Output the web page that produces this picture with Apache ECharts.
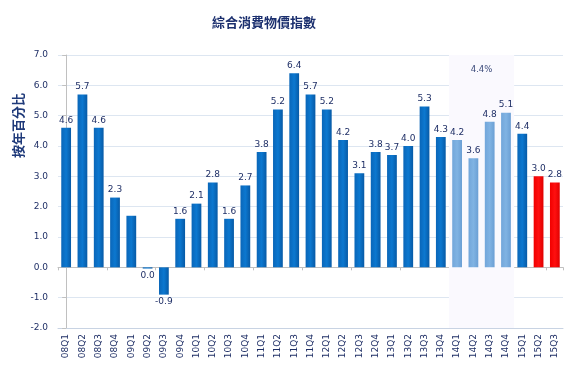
<!DOCTYPE html>
<html><head><meta charset="utf-8">
<script src="https://cdn.jsdelivr.net/npm/echarts@6/dist/echarts.min.js"></script>
<style>html,body{margin:0;padding:0;background:#fff}#c{width:584px;height:378px}</style>
</head><body><div id="c"></div>
<script>
const categories = ['08Q1','08Q2','08Q3','08Q4','09Q1','09Q2','09Q3','09Q4','10Q1','10Q2','10Q3','10Q4','11Q1','11Q2','11Q3','11Q4','12Q1','12Q2','12Q3','12Q4','13Q1','13Q2','13Q3','13Q4','14Q1','14Q2','14Q3','14Q4','15Q1','15Q2','15Q3'];
const values = [4.6,5.7,4.6,2.3,1.7,-0.04,-0.9,1.6,2.1,2.8,1.6,2.7,3.8,5.2,6.4,5.7,5.2,4.2,3.1,3.8,3.7,4.0,5.3,4.3,4.2,3.6,4.8,5.1,4.4,3.0,2.8];
const unlabeled = ['09Q1'];
const lightCats = ['14Q1','14Q2','14Q3','14Q4'];
const redCats = ['15Q2','15Q3'];
const bandFrom = '14Q1', bandTo = '14Q4';
const bandLabel = '4.4%';
const yTicks = [-2,-1,0,1,2,3,4,5,6,7];

const navy = '#1f2f66';
const font = 'DejaVu Sans';
function grad(c0,c1,c2){return new echarts.graphic.LinearGradient(0,0,1,0,[{offset:0,color:c0},{offset:0.5,color:c1},{offset:1,color:c2}]);}
const dark = grad('#0a66b8','#0c78d0','#075aa6');
const light = grad('#72a6da','#80b3e3','#6b9fd4');
const red = grad('#f00000','#ff1010','#e00000');

const data = values.map((v,i)=>{
  const c = categories[i];
  const col = lightCats.includes(c) ? light : (redCats.includes(c) ? red : dark);
  return {
    value: v,
    itemStyle:{color:col},
    label:{show: !unlabeled.includes(c), position: v<0 ? 'bottom':'top'}
  };
});
const i0 = categories.indexOf(bandFrom), i1 = categories.indexOf(bandTo);

const chart = echarts.init(document.getElementById('c'), null, {renderer:'canvas'});
chart.setOption({
  animation:false,
  title:{text:'綜合消費物價指數', left:207, top:11,
    textStyle:{fontFamily:'Noto Sans CJK TC', fontWeight:'bold', fontSize:13, color:'#1b2f6e'}},
  grid:{left:58, right:21, top:55, bottom:50},
  graphic:[{type:'text', left:12, top:93, rotation:Math.PI/2,
    style:{text:'按年百分比', font:'bold 13px "Noto Sans CJK TC"', fill:'#1f3a7a'}}],
  xAxis:[
    {type:'category', data:categories, position:'bottom',
     axisLine:{onZero:false, lineStyle:{color:'#c8d3e3'}},
     axisTick:{show:false},
     axisLabel:{rotate:90, interval:0, fontFamily:font, fontSize:9, color:navy, margin:6},
     splitLine:{show:false}},
    {type:'category', data:categories, position:'top',
     axisLine:{onZero:true, lineStyle:{color:'#c0c0c0'}},
     axisTick:{show:true, inside:true, length:3, lineStyle:{color:'#c0c0c0'}},
     axisLabel:{show:false}},
    {type:'value', min:-0.5, max:categories.length-0.5, show:false}
  ],
  yAxis:{type:'value', min:yTicks[0], max:yTicks[yTicks.length-1], interval:1,
    axisLine:{show:true, lineStyle:{color:'#c0c0c0'}},
    axisTick:{show:true, length:4, lineStyle:{color:'#c0c0c0'}},
    axisLabel:{fontFamily:font, fontSize:9, color:navy, margin:10, formatter:v=>v.toFixed(1)},
    splitLine:{lineStyle:{color:'#dde6f1'}}},
  series:[
    {type:'line', xAxisIndex:2, data:[], silent:true, z:0,
     markArea:{silent:true, itemStyle:{color:'#faf9fe', opacity:1, borderWidth:0},
       emphasis:{disabled:true},
       label:{show:true, position:'insideTop', distance:10, fontFamily:font, fontSize:8.5, color:'#3b4a7a'},
       data:[[{name:bandLabel, xAxis:i0-0.5, yAxis:yTicks[yTicks.length-1]},{xAxis:i1+0.5, yAxis:yTicks[0]}]]}},
    {type:'bar', xAxisIndex:0, data:data, barCategoryGap:'40%', z:3,
     label:{show:true, fontFamily:font, fontSize:9, color:navy, distance:3,
       formatter:p=>(Math.round(p.value*10)/10).toFixed(1)}}
  ]
});
</script></body></html>
